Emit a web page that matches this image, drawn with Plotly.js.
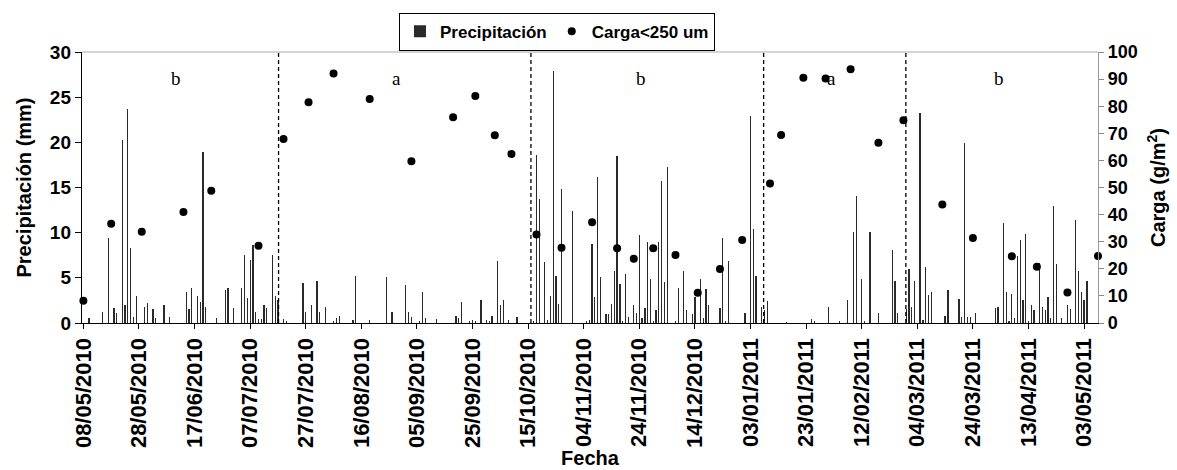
<!DOCTYPE html>
<html>
<head>
<meta charset="utf-8">
<script src="https://cdn.plot.ly/plotly-3.0.1.min.js"></script>
<style>html,body{margin:0;padding:0;background:#fff;}#chart{width:1177px;height:470px;}</style>
</head>
<body>
<div id="chart"></div>
<script>
// Precipitation (mm) per day
const precipDates = [
'2010-05-10','2010-05-15','2010-05-17','2010-05-19','2010-05-20','2010-05-22','2010-05-23','2010-05-24','2010-05-25','2010-05-26',
'2010-05-27','2010-05-30','2010-05-31','2010-06-02','2010-06-03','2010-06-06','2010-06-08','2010-06-14','2010-06-15','2010-06-16',
'2010-06-18','2010-06-19','2010-06-20','2010-06-21','2010-06-25','2010-06-28','2010-06-29','2010-07-01','2010-07-04','2010-07-05',
'2010-07-06','2010-07-07','2010-07-08','2010-07-09','2010-07-10','2010-07-11','2010-07-12','2010-07-13','2010-07-15','2010-07-16',
'2010-07-17','2010-07-19','2010-07-20','2010-07-26','2010-07-27','2010-07-29','2010-07-31','2010-08-01','2010-08-03','2010-08-06',
'2010-08-07','2010-08-08','2010-08-13','2010-08-14','2010-08-19','2010-08-25','2010-08-27','2010-09-01','2010-09-02','2010-09-03',
'2010-09-06','2010-09-07','2010-09-08','2010-09-12','2010-09-19','2010-09-20','2010-09-21','2010-09-24','2010-09-25','2010-09-26',
'2010-09-28','2010-09-30','2010-10-01','2010-10-02','2010-10-04','2010-10-05','2010-10-06','2010-10-08','2010-10-11','2010-10-17',
'2010-10-18','2010-10-19','2010-10-21','2010-10-22','2010-10-23','2010-10-24','2010-10-25','2010-10-26','2010-10-27','2010-10-31',
'2010-11-05','2010-11-06','2010-11-07','2010-11-08','2010-11-09','2010-11-10','2010-11-12','2010-11-13','2010-11-14','2010-11-15',
'2010-11-16','2010-11-17','2010-11-18','2010-11-19','2010-11-20','2010-11-22','2010-11-23','2010-11-24','2010-11-25','2010-11-26',
'2010-11-27','2010-11-28','2010-11-29','2010-11-30','2010-12-01','2010-12-02','2010-12-03','2010-12-04','2010-12-07','2010-12-08',
'2010-12-10','2010-12-11','2010-12-13','2010-12-14','2010-12-16','2010-12-17','2010-12-18','2010-12-19','2010-12-23','2010-12-24',
'2010-12-25','2010-12-26','2011-01-01','2011-01-03','2011-01-04','2011-01-05','2011-01-07','2011-01-08','2011-01-09','2011-01-16',
'2011-01-25','2011-01-26','2011-01-31','2011-02-04','2011-02-07','2011-02-09','2011-02-10','2011-02-12','2011-02-13','2011-02-15',
'2011-02-18','2011-02-23','2011-02-24','2011-02-25','2011-02-28','2011-03-01','2011-03-02','2011-03-03','2011-03-05','2011-03-06',
'2011-03-07','2011-03-08','2011-03-09','2011-03-14','2011-03-15','2011-03-19','2011-03-20','2011-03-21','2011-03-22','2011-03-23',
'2011-03-25','2011-04-01','2011-04-02','2011-04-04','2011-04-05','2011-04-06','2011-04-07','2011-04-08','2011-04-09','2011-04-10',
'2011-04-11','2011-04-12','2011-04-13','2011-04-14','2011-04-15','2011-04-17','2011-04-18','2011-04-19','2011-04-20','2011-04-21',
'2011-04-22','2011-04-23','2011-04-25','2011-04-27','2011-04-28','2011-04-30','2011-05-01','2011-05-02','2011-05-03','2011-05-04'
];
const precipMm = [
0.5,1.2,9.4,1.7,1.1,20.3,2.0,23.7,8.3,0.7,
3.0,1.8,2.2,1.5,0.5,2.0,0.7,3.4,1.5,3.9,
3.0,2.3,18.9,1.8,0.5,3.6,3.9,1.7,3.9,7.5,
2.8,7.0,8.6,1.2,0.4,0.4,2.0,1.7,7.5,3.0,
2.5,0.4,0.2,4.4,1.2,2.0,4.7,1.2,1.8,0.2,
0.6,0.8,0.3,5.2,0.3,5.1,1.2,4.2,1.2,0.7,
0.2,3.4,0.6,0.4,0.8,0.5,2.3,0.2,0.3,0.2,
2.5,0.3,0.2,0.8,6.9,2.0,2.5,0.3,0.7,0.2,
18.6,13.7,6.8,0.3,3.0,27.9,5.2,2.1,14.8,12.4,
0.2,0.3,8.7,2.9,16.2,5.1,1.0,1.0,2.1,5.8,
18.5,4.3,0.2,5.4,0.7,2.0,1.1,9.7,0.6,1.7,
9.0,4.9,0.2,1.4,9.0,15.7,4.5,17.3,0.2,3.9,
5.8,1.4,1.0,2.9,4.9,0.6,3.8,2.0,1.7,9.4,
0.2,6.9,1.1,22.9,10.4,5.2,1.8,1.4,2.4,0.1,
0.4,0.2,1.8,0.2,2.5,10.1,14.1,4.9,0.2,10.1,
1.1,8.1,4.6,1.1,1.5,6.0,1.8,4.7,23.2,0.3,
6.2,3.1,3.4,0.8,3.6,2.7,0.7,19.9,0.7,0.7,
1.1,1.7,1.8,11.1,3.4,0.2,3.2,0.5,7.4,9.2,
2.5,9.9,0.2,2.0,1.4,6.6,1.8,1.4,2.9,0.5,
13.0,6.5,0.5,2.0,1.5,11.4,5.8,3.4,2.5,4.6
];
// Carga <250 um (g/m2)
const cargaDates = [
'2010-05-08','2010-05-18','2010-05-29','2010-06-13','2010-06-23','2010-07-10','2010-07-19','2010-07-28','2010-08-06','2010-08-19',
'2010-09-03','2010-09-18','2010-09-26','2010-10-03','2010-10-09','2010-10-18','2010-10-27','2010-11-07','2010-11-16','2010-11-22',
'2010-11-29','2010-12-07','2010-12-15','2010-12-23','2010-12-31','2011-01-10','2011-01-14','2011-01-22','2011-01-30','2011-02-08',
'2011-02-18','2011-02-27','2011-03-13','2011-03-24','2011-04-07','2011-04-16','2011-04-27','2011-05-08'
];
const cargaValues = [
8.2,36.6,33.7,41.0,48.8,28.5,67.9,81.5,92.1,82.7,
59.7,75.9,83.8,69.3,62.4,32.7,27.8,37.2,27.6,23.7,
27.6,25.1,11.2,19.9,30.6,51.5,69.4,90.5,90.2,93.6,
66.5,74.8,43.7,31.4,24.6,20.8,11.3,24.7
];
// Period divisions and period labels
const divisionDates = ['2010-07-17 05:00','2010-10-16 00:00','2011-01-07 17:00','2011-02-27 21:00'];
const periodLabels = ['b','a','b','a','b'];
const periodLabelDates = ['2010-06-10 10:00','2010-08-28 14:00','2010-11-24 17:00','2011-02-01 00:00','2011-04-02 12:00'];
const xTickStart = '2010-05-08';

const sansBold = {family: 'Liberation Sans, Arial, sans-serif', weight: 'bold', color: '#000'};
const DAY = 86400000;

const traces = [
  {
    type: 'bar', name: 'Precipitación', x: precipDates, y: precipMm,
    width: 0.45 * DAY,
    marker: {color: '#2a2a2a', line: {width: 0}},
    xaxis: 'x', yaxis: 'y'
  },
  {
    type: 'scatter', mode: 'markers', name: 'Carga<250 um', x: cargaDates, y: cargaValues,
    marker: {color: '#000', size: 8, symbol: 'circle'},
    cliponaxis: false,
    xaxis: 'x', yaxis: 'y2'
  }
];

const shapes = divisionDates.map(d => ({
  type: 'line', xref: 'x', yref: 'paper', x0: d, x1: d, y0: 0, y1: 1,
  line: {color: '#000', width: 1.3, dash: '4px,3px'}
}));
shapes.push({type: 'line', xref: 'paper', yref: 'paper', x0: 0, x1: 1, y0: 1, y1: 1,
  line: {color: '#aaaaaa', width: 1.2}});

const annotations = periodLabels.map((t, i) => ({
  x: periodLabelDates[i], y: 27.1, xref: 'x', yref: 'y', text: t, showarrow: false,
  font: {family: 'Liberation Serif, Times New Roman, serif', size: 19, color: '#000'},
  xanchor: 'center', yanchor: 'middle'
}));

const layout = {
  width: 1177, height: 470,
  margin: {l: 82, r: 79, t: 52, b: 147},
  paper_bgcolor: '#fff', plot_bgcolor: '#fff',
  bargap: 0,
  showlegend: true,
  legend: {
    orientation: 'h', x: 0.4675, xanchor: 'center', y: 1.145, yanchor: 'top',
    bordercolor: '#000', borderwidth: 1, bgcolor: '#fff',
    font: Object.assign({}, sansBold, {size: 17}),
    itemwidth: 30, tracegroupgap: 0
  },
  xaxis: {
    type: 'date',
    range: ['2010-05-07 12:00', '2011-05-08 00:00'],
    tick0: xTickStart, dtick: 20 * DAY,
    tickformat: '%d/%m/%Y', tickangle: -90,
    ticks: 'outside', ticklen: 5, tickcolor: '#000',
    showline: true, linecolor: '#000', linewidth: 1.2,
    showgrid: false, zeroline: false,
    tickfont: Object.assign({}, sansBold, {size: 22}),
    title: {text: 'Fecha', font: Object.assign({}, sansBold, {size: 20}), standoff: 2}
  },
  yaxis: {
    range: [0, 30], dtick: 5,
    ticks: 'outside', ticklen: 6, tickcolor: '#000',
    showline: true, linecolor: '#000', linewidth: 1.2,
    showgrid: false, zeroline: false,
    tickfont: Object.assign({}, sansBold, {size: 19}),
    title: {text: 'Precipitación (mm)', font: Object.assign({}, sansBold, {size: 20}), standoff: 12}
  },
  yaxis2: {
    overlaying: 'y', side: 'right',
    range: [0, 100], dtick: 10,
    ticks: 'outside', ticklen: 5, tickcolor: '#888',
    showline: true, linecolor: '#999', linewidth: 1.2,
    showgrid: false, zeroline: false,
    tickfont: Object.assign({}, sansBold, {size: 18}),
    title: {text: 'Carga (g/m<sup>2</sup>)', font: Object.assign({}, sansBold, {size: 20}), standoff: 14}
  },
  shapes: shapes,
  annotations: annotations
};

Plotly.newPlot('chart', traces, layout, {displayModeBar: false, staticPlot: true});
</script>
</body>
</html>
